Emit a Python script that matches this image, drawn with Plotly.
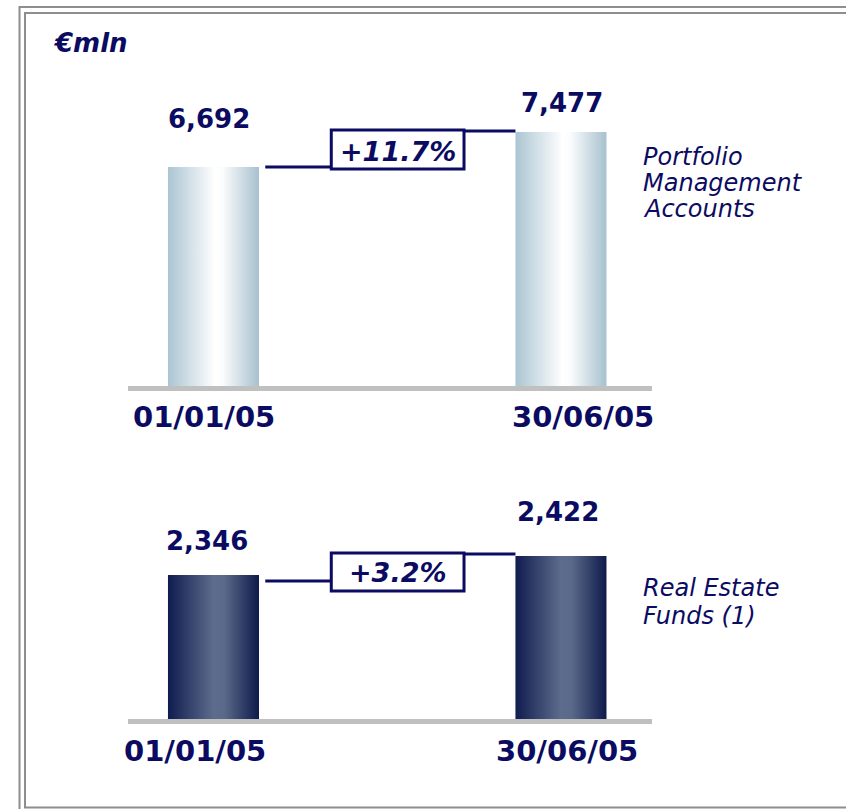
import plotly.graph_objects as go

W, H = 846, 809

# ---------------- data ----------------
dates = ["01/01/05", "30/06/05"]
pma_values = [6692, 7477]          # Portfolio Management Accounts (EUR mln)
ref_values = [2346, 2422]          # Real Estate Funds (EUR mln)
pma_change = "+11.7%"
ref_change = "+3.2%"
pma_name = ["Portfolio", "Management", "Accounts"]
ref_name = ["Real Estate", "Funds (1)"]
unit_label = "€mln"

# ---------------- style ----------------
NAVY = "#0b0b62"
FONT = "DejaVu Sans"
GRAY_AXIS = "#c0c0c0"
BORDER = "#8e8e8e"

LIGHT_SCALE = [[0, "#abc5d2"], [0.52, "#ffffff"], [0.6, "#fbfcfd"], [1, "#a7c1ce"]]
DARK_SCALE = [[0, "#0f1c4f"], [0.5, "#5d6c8c"], [0.62, "#5a6989"], [1, "#0e1a4b"]]

BAR_W = 0.262
X_RANGE = [-0.246, 1.262]


def px(x):
    return x / W


def py(y):
    return 1 - y / H


panels = [
    dict(values=pma_values, change=pma_change, names=pma_name, scale=LIGHT_SCALE,
         yrange=[1781, 9092], dom=(386, 60), xa="x", ya="y",
         val_shift=[(-4, 48), (1, 29)], date_y=417, date_xshift=[-9, 22],
         box=(-37, 2), left_off=0, right_off=1, pct_shift=-19,
         name_y=[157, 183, 209]),
    dict(values=ref_values, change=ref_change, names=ref_name, scale=DARK_SCALE,
         yrange=[1770, 2726], dom=(719, 480), xa="x2", ya="y2",
         val_shift=[(-6, 34), (-3, 44)], date_y=751, date_xshift=[-18, 6],
         box=(-35, 3), left_off=-6, right_off=2, pct_shift=-16.5,
         name_y=[588, 616]),
]

fig = go.Figure()
annotations = []
shapes = []

BOX_X = (0.339, 0.721)
LINE_L = (0.149, 0.339)
LINE_R = (0.721, 1 - BAR_W / 2)

for p in panels:
    base = p["yrange"][0]
    for i, v in enumerate(p["values"]):
        xs = [i - BAR_W / 2, i + BAR_W / 2, i + BAR_W / 2, i - BAR_W / 2, i - BAR_W / 2]
        ys = [base, base, v, v, base]
        fig.add_trace(go.Scatter(
            x=xs, y=ys, xaxis=p["xa"], yaxis=p["ya"], mode="lines",
            line=dict(width=0), fill="toself",
            fillgradient=dict(type="horizontal", colorscale=p["scale"]),
            hoverinfo="skip", showlegend=False))
        dx, dy = p["val_shift"][i]
        annotations.append(dict(
            x=i, y=v, xref=p["xa"], yref=p["ya"], text=f"{v:,}",
            showarrow=False, xanchor="center", yanchor="middle",
            xshift=dx, yshift=dy,
            font=dict(family=FONT, size=26, color=NAVY, weight="bold")))
        annotations.append(dict(
            x=i, y=py(p["date_y"]), xref=p["xa"], yref="paper", text=dates[i],
            showarrow=False, xanchor="center", yanchor="middle",
            xshift=p["date_xshift"][i],
            font=dict(family=FONT, size=29, color=NAVY, weight="bold")))

    v1, v2 = p["values"]
    # connector lines and change box
    shapes.append(dict(type="line", xref=p["xa"], yref=p["ya"], ysizemode="pixel",
                       yanchor=v1, x0=LINE_L[0], x1=LINE_L[1],
                       y0=p["left_off"], y1=p["left_off"],
                       line=dict(color=NAVY, width=3)))
    shapes.append(dict(type="line", xref=p["xa"], yref=p["ya"], ysizemode="pixel",
                       yanchor=v2, x0=LINE_R[0], x1=LINE_R[1],
                       y0=p["right_off"], y1=p["right_off"],
                       line=dict(color=NAVY, width=3)))
    shapes.append(dict(type="rect", xref=p["xa"], yref=p["ya"], ysizemode="pixel",
                       yanchor=v2, x0=BOX_X[0], x1=BOX_X[1],
                       y0=p["box"][0], y1=p["box"][1],
                       line=dict(color=NAVY, width=3), fillcolor="white"))
    annotations.append(dict(
        x=(BOX_X[0] + BOX_X[1]) / 2, y=v2, xref=p["xa"], yref=p["ya"],
        text=p["change"], showarrow=False, xanchor="center", yanchor="middle",
        yshift=p["pct_shift"],
        font=dict(family=FONT, size=27, color=NAVY, weight="bold", style="italic")))
    for line_text, yc in zip(p["names"], p["name_y"]):
        annotations.append(dict(
            x=px(641), y=py(yc), xref="paper", yref="paper", text=line_text,
            showarrow=False, xanchor="left", yanchor="middle",
            font=dict(family=FONT, size=24, color=NAVY, style="italic")))

annotations.append(dict(
    x=px(51), y=py(43), xref="paper", yref="paper", text=unit_label,
    showarrow=False, xanchor="left", yanchor="middle",
    font=dict(family=FONT, size=26, color=NAVY, weight="bold", style="italic")))

# frame (double border)
shapes.append(dict(type="rect", xref="paper", yref="paper", layer="above",
                   x0=px(19.5), x1=px(W + 10), y0=py(H + 10), y1=py(7),
                   line=dict(color=BORDER, width=2)))
shapes.append(dict(type="rect", xref="paper", yref="paper", layer="above",
                   x0=px(25), x1=px(W + 10), y0=py(807.5), y1=py(13),
                   line=dict(color=BORDER, width=2)))

xdom = [px(128), px(652)]
axis_common = dict(range=X_RANGE, showgrid=False, zeroline=False, showline=True,
                   linecolor=GRAY_AXIS, linewidth=5, ticks="", showticklabels=False,
                   fixedrange=True)
yaxis_common = dict(visible=False, showgrid=False, zeroline=False, fixedrange=True)

fig.update_layout(
    width=W, height=H,
    margin=dict(l=0, r=0, t=0, b=0),
    paper_bgcolor="white", plot_bgcolor="rgba(0,0,0,0)",
    showlegend=False,
    xaxis=dict(domain=xdom, anchor="y", **axis_common),
    yaxis=dict(domain=[py(panels[0]["dom"][0]), py(panels[0]["dom"][1])], anchor="x",
               range=panels[0]["yrange"], **yaxis_common),
    xaxis2=dict(domain=xdom, anchor="y2", **axis_common),
    yaxis2=dict(domain=[py(panels[1]["dom"][0]), py(panels[1]["dom"][1])], anchor="x2",
                range=panels[1]["yrange"], **yaxis_common),
    annotations=annotations,
    shapes=shapes,
)

fig.write_html(
    "out.html",
    config={"displayModeBar": False},
    post_script="document.body.style.margin='0';document.body.style.overflow='hidden';",
)
